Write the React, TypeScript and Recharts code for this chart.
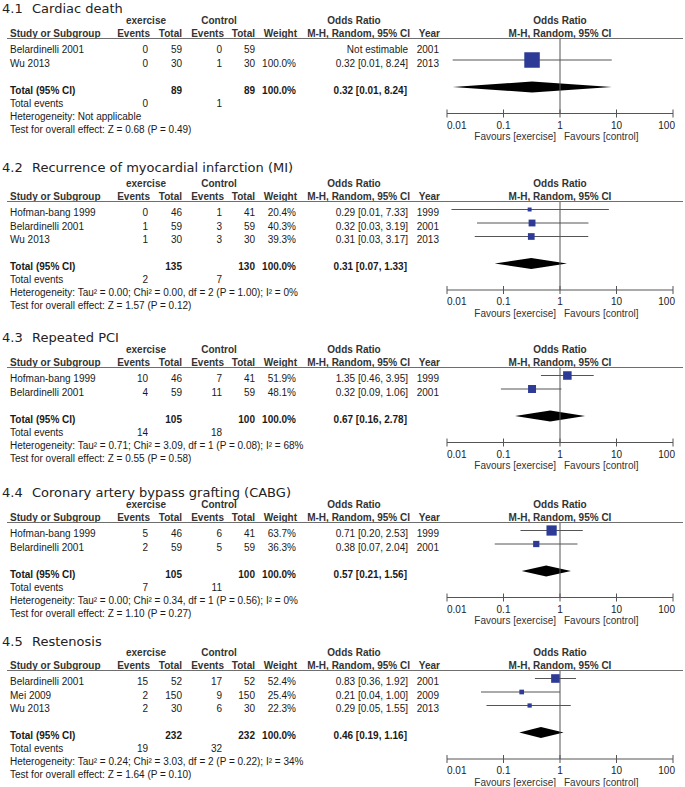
import React from "react";
import { ComposedChart, XAxis, YAxis, Line, Scatter, Area, ReferenceLine } from "recharts";

const outcomeNumbers = ["4.1", "4.2", "4.3", "4.4", "4.5"];
const outcomes = [
  "Cardiac death",
  "Recurrence of myocardial infarction (MI)",
  "Repeated PCI",
  "Coronary artery bypass grafting (CABG)",
  "Restenosis",
];
const studyNames = [
  ["Belardinelli 2001", "Wu 2013"],
  ["Hofman-bang 1999", "Belardinelli 2001", "Wu 2013"],
  ["Hofman-bang 1999", "Belardinelli 2001"],
  ["Hofman-bang 1999", "Belardinelli 2001"],
  ["Belardinelli 2001", "Mei 2009", "Wu 2013"],
];
const studyYears = [[2001, 2013], [1999, 2001, 2013], [1999, 2001], [1999, 2001], [2001, 2009, 2013]];
const exerciseEvents = [[0, 0], [0, 1, 1], [10, 4], [5, 2], [15, 2, 2]];
const exerciseTotals = [[59, 30], [46, 59, 30], [46, 59], [46, 59], [52, 150, 30]];
const controlEvents = [[0, 1], [1, 3, 3], [7, 11], [6, 5], [17, 9, 6]];
const controlTotals = [[59, 30], [41, 59, 30], [41, 59], [41, 59], [52, 150, 30]];
const weights = [[null, 100.0], [20.4, 40.3, 39.3], [51.9, 48.1], [63.7, 36.3], [52.4, 25.4, 22.3]];
const oddsRatios = [[null, 0.32], [0.29, 0.32, 0.31], [1.35, 0.32], [0.71, 0.38], [0.83, 0.21, 0.29]];
const ciLower = [[null, 0.0126], [0.012, 0.034, 0.031], [0.46, 0.09], [0.2, 0.07], [0.36, 0.04, 0.05]];
const ciUpper = [[null, 8.24], [7.33, 3.19, 3.17], [3.95, 1.06], [2.53, 2.04], [1.92, 1.0, 1.55]];
const exerciseSum = [89, 135, 105, 105, 232];
const controlSum = [89, 130, 100, 100, 232];
const exerciseEventSum = [0, 2, 14, 7, 19];
const controlEventSum = [1, 7, 18, 11, 32];
const pooledOR = [0.32, 0.31, 0.67, 0.57, 0.46];
const pooledLower = [0.0126, 0.07, 0.16, 0.21, 0.19];
const pooledUpper = [8.24, 1.33, 2.78, 1.56, 1.16];
const heterogeneity = [
  "Heterogeneity: Not applicable",
  "Heterogeneity: Tau² = 0.00; Chi² = 0.00, df = 2 (P = 1.00); I² = 0%",
  "Heterogeneity: Tau² = 0.71; Chi² = 3.09, df = 1 (P = 0.08); I² = 68%",
  "Heterogeneity: Tau² = 0.00; Chi² = 0.34, df = 1 (P = 0.56); I² = 0%",
  "Heterogeneity: Tau² = 0.24; Chi² = 3.03, df = 2 (P = 0.22); I² = 34%",
];
const overallEffect = [
  "Test for overall effect: Z = 0.68 (P = 0.49)",
  "Test for overall effect: Z = 1.57 (P = 0.12)",
  "Test for overall effect: Z = 0.55 (P = 0.58)",
  "Test for overall effect: Z = 1.10 (P = 0.27)",
  "Test for overall effect: Z = 1.64 (P = 0.10)",
];
const axisTicks = [0.01, 0.1, 1, 10, 100];

// layout
const W = 685;
const PITCH = 13.5;
const FOOT = 13;
const panelTop = [5, 168, 334, 489, 637];
const titleY = [9, 168, 338, 493, 642];
const PLOT_L = 447;
const PLOT_R = 673;
const SANS = "'Liberation Sans', Arial, sans-serif";
const TITLE_FONT = "'DejaVu Sans', sans-serif";
const LINE = "#555";
const BLUE = "#2E3B96";

type TxtProps = {
  x: number;
  y: number;
  children: React.ReactNode;
  align?: "left" | "right" | "center";
  bold?: boolean;
  size?: number;
  family?: string;
  color?: string;
};

function Txt({ x, y, children, align = "left", bold = false, size = 10, family = SANS, color = "#1a1a1a" }: TxtProps) {
  const style: React.CSSProperties = {
    position: "absolute",
    top: y - size * 0.6,
    lineHeight: `${size * 1.2}px`,
    fontSize: size,
    fontFamily: family,
    fontWeight: bold ? "bold" : "normal",
    color,
    whiteSpace: "nowrap",
  };
  if (align === "left") style.left = x;
  else if (align === "right") style.right = W - x;
  else {
    style.left = x - 150;
    style.width = 300;
    style.textAlign = "center";
  }
  return <div style={style}>{children}</div>;
}

const fmtCI = (or: number, lo: number, hi: number) => `${or.toFixed(2)} [${lo.toFixed(2)}, ${hi.toFixed(2)}]`;

const AxisTick = (props: any) => {
  const { x, y, payload } = props;
  const v = payload.value;
  const anchor = v === axisTicks[0] ? "start" : v === axisTicks[axisTicks.length - 1] ? "end" : "middle";
  const tx = v === axisTicks[axisTicks.length - 1] ? x + 2 : x;
  return (
    <g>
      <line x1={x} x2={x} y1={y - 4} y2={y + 4} stroke={LINE} />
      <text x={tx} y={y + 15} textAnchor={anchor} fontSize={10} fontFamily={SANS} fill="#222">
        {String(v)}
      </text>
    </g>
  );
};

function Panel({ i }: { i: number }) {
  const top = panelTop[i];
  const n = studyNames[i].length;
  const base = top + 41.5;
  const markY = (r: number) => base + r * PITCH;
  const textY = (r: number) => markY(r) + 3.5;
  const totalRow = n + 1;
  const ulY = top + 34;
  const axisY = markY(totalRow) + 26.5;
  const yDomain = [(ulY - base) / PITCH, (axisY - base) / PITCH];
  const plotH = axisY - ulY;
  const h1 = top + 16;
  const h2 = top + 29;
  const totY = textY(totalRow);

  const studies = studyNames[i]
    .map((name, k) => ({ name, x: oddsRatios[i][k], y: k, w: weights[i][k], lo: ciLower[i][k], hi: ciUpper[i][k] }))
    .filter((d) => d.x != null);

  const diamond = [
    { x: pooledLower[i], d: [totalRow, totalRow] },
    { x: pooledOR[i], d: [totalRow - 0.4, totalRow + 0.4] },
    { x: pooledUpper[i], d: [totalRow, totalRow] },
  ];

  return (
    <>
      <Txt x={2} y={titleY[i]} size={13} family={TITLE_FONT} color="#222">
        {outcomeNumbers[i]}
      </Txt>
      <Txt x={32} y={titleY[i]} size={13} family={TITLE_FONT} color="#222">
        {outcomes[i]}
      </Txt>

      <Txt x={146} y={h1} align="center" bold color="#333">exercise</Txt>
      <Txt x={219} y={h1} align="center" bold color="#333">Control</Txt>
      <Txt x={354} y={h1} align="center" bold color="#333">Odds Ratio</Txt>
      <Txt x={560} y={h1} align="center" bold color="#333">Odds Ratio</Txt>

      <Txt x={10} y={h2} bold color="#333">Study or Subgroup</Txt>
      <Txt x={150} y={h2} align="right" bold color="#333">Events</Txt>
      <Txt x={182} y={h2} align="right" bold color="#333">Total</Txt>
      <Txt x={224} y={h2} align="right" bold color="#333">Events</Txt>
      <Txt x={255} y={h2} align="right" bold color="#333">Total</Txt>
      <Txt x={297} y={h2} align="right" bold color="#333">Weight</Txt>
      <Txt x={410} y={h2} align="right" bold color="#333">M-H, Random, 95% CI</Txt>
      <Txt x={440} y={h2} align="right" bold color="#333">Year</Txt>
      <Txt x={560} y={h2} align="center" bold color="#333">M-H, Random, 95% CI</Txt>

      <div style={{ position: "absolute", left: 7, top: ulY - 0.75, width: 676, borderTop: "1.5px solid #6e6e6e" }} />

      {studyNames[i].map((name, k) => {
        const y = textY(k);
        const w = weights[i][k];
        const or = oddsRatios[i][k];
        return (
          <React.Fragment key={name}>
            <Txt x={10} y={y}>{name}</Txt>
            <Txt x={148} y={y} align="right">{exerciseEvents[i][k]}</Txt>
            <Txt x={182} y={y} align="right">{exerciseTotals[i][k]}</Txt>
            <Txt x={222} y={y} align="right">{controlEvents[i][k]}</Txt>
            <Txt x={255} y={y} align="right">{controlTotals[i][k]}</Txt>
            {w != null && <Txt x={296} y={y} align="right">{`${w.toFixed(1)}%`}</Txt>}
            <Txt x={408} y={y} align="right">
              {or == null ? "Not estimable" : fmtCI(or, ciLower[i][k] as number, ciUpper[i][k] as number)}
            </Txt>
            <Txt x={439} y={y} align="right">{studyYears[i][k]}</Txt>
          </React.Fragment>
        );
      })}

      <Txt x={10} y={totY} bold>Total (95% CI)</Txt>
      <Txt x={182} y={totY} align="right" bold>{exerciseSum[i]}</Txt>
      <Txt x={255} y={totY} align="right" bold>{controlSum[i]}</Txt>
      <Txt x={296} y={totY} align="right" bold>100.0%</Txt>
      <Txt x={407} y={totY} align="right" bold>{fmtCI(pooledOR[i], pooledLower[i], pooledUpper[i])}</Txt>

      <Txt x={10} y={totY + FOOT}>Total events</Txt>
      <Txt x={148} y={totY + FOOT} align="right">{exerciseEventSum[i]}</Txt>
      <Txt x={222} y={totY + FOOT} align="right">{controlEventSum[i]}</Txt>
      <Txt x={10} y={totY + FOOT * 2}>{heterogeneity[i]}</Txt>
      <Txt x={10} y={totY + FOOT * 3}>{overallEffect[i]}</Txt>

      <Txt x={556} y={axisY + 23.5} align="right" color="#333">Favours [exercise]</Txt>
      <Txt x={564} y={axisY + 23.5} color="#333">Favours [control]</Txt>

      <div style={{ position: "absolute", left: 0, top: ulY }}>
        <ComposedChart
          width={W}
          height={plotH + 30}
          data={diamond}
          margin={{ top: 0, right: W - PLOT_R, bottom: 0, left: PLOT_L }}
        >
          <XAxis
            dataKey="x"
            type="number"
            scale="log"
            domain={[0.01, 100]}
            ticks={axisTicks}
            allowDataOverflow
            interval={0}
            height={30}
            tickSize={0}
            tickMargin={0}
            tickLine={false}
            axisLine={{ stroke: LINE }}
            tick={<AxisTick />}
          />
          <YAxis dataKey="y" type="number" domain={yDomain} reversed hide width={0} allowDataOverflow />
          <ReferenceLine x={1} stroke={LINE} strokeWidth={1} />
          <Area
            dataKey="d"
            type="linear"
            fill="#000"
            fillOpacity={1}
            stroke="none"
            dot={false}
            activeDot={false}
            isAnimationActive={false}
          />
          {studies.map((s) => (
            <Line
              key={s.name}
              data={[
                { x: s.lo, y: s.y },
                { x: s.hi, y: s.y },
              ]}
              dataKey="y"
              type="linear"
              stroke={LINE}
              strokeWidth={1}
              dot={false}
              activeDot={false}
              isAnimationActive={false}
            />
          ))}
          <Scatter
            data={studies}
            dataKey="y"
            isAnimationActive={false}
            shape={(p: any) => {
              const s = 1 + 0.145 * p.payload.w;
              return <rect x={p.cx - s / 2} y={p.cy - s / 2} width={s} height={s} fill={BLUE} />;
            }}
          />
        </ComposedChart>
      </div>
    </>
  );
}

export default function App() {
  return (
    <div style={{ position: "absolute", left: 0, top: 0, width: W, height: 787, background: "#fff", overflow: "hidden" }}>
      {outcomes.map((_, i) => (
        <Panel key={i} i={i} />
      ))}
    </div>
  );
}
